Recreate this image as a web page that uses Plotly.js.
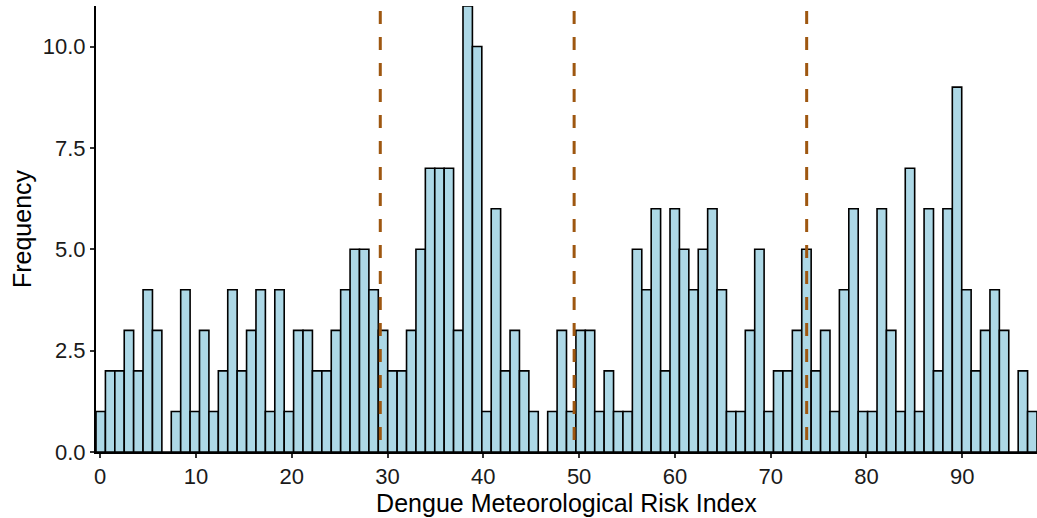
<!DOCTYPE html>
<html>
<head>
<meta charset="utf-8">
<script src="https://cdn.plot.ly/plotly-3.0.1.min.js"></script>
<style>html,body{margin:0;padding:0;background:#fff;}#chart{width:1037px;height:518px;}</style>
</head>
<body>
<div id="chart"></div>
<script>
// Histogram of the Dengue Meteorological Risk Index (100 bins)
const binStart = 0.05;      // centre of first bin
const binWidth = 0.9825;    // width of each bin
const counts = [
  1, 2, 2, 3, 2, 4, 3, 0, 1, 4,
  1, 3, 1, 2, 4, 2, 3, 4, 1, 4,
  1, 3, 3, 2, 2, 3, 4, 5, 5, 4,
  3, 2, 2, 3, 5, 7, 7, 7, 3, 11,
  10, 1, 6, 2, 3, 2, 1, 0, 1, 3,
  1, 3, 3, 1, 2, 1, 1, 5, 4, 6,
  2, 6, 5, 4, 5, 6, 4, 1, 1, 3,
  5, 1, 2, 2, 3, 5, 2, 3, 1, 4,
  6, 1, 1, 6, 3, 1, 7, 1, 6, 2,
  6, 9, 4, 2, 3, 4, 3, 0, 2, 1
];
const cutPoints = [29.24, 49.48, 73.76];
const xTicks = [0, 10, 20, 30, 40, 50, 60, 70, 80, 90];
const yTicks = [0, 2.5, 5, 7.5, 10];

const binCentres = counts.map((_, i) => binStart + i * binWidth);
const xMin = binCentres[0] - binWidth / 2;
const xMax = binCentres[binCentres.length - 1] + binWidth / 2;

const trace = {
  type: 'bar',
  x: binCentres,
  y: counts,
  width: binWidth,
  marker: { color: '#add8e6', line: { color: '#000000', width: 1.6 } },
  hoverinfo: 'x+y'
};

const shapes = cutPoints.map(c => ({
  type: 'line', xref: 'x', yref: 'y', x0: c, x1: c, y0: 11, y1: 0,
  line: { color: '#9e5710', width: 3, dash: '0px,5px,13px,8px' },
  layer: 'above'
}));

const layout = {
  width: 1037, height: 518,
  margin: { l: 96, r: 0, t: 6, b: 66 },
  paper_bgcolor: '#ffffff', plot_bgcolor: '#ffffff',
  font: { family: 'Liberation Sans, Arial, sans-serif', color: '#1a1a1a' },
  showlegend: false,
  bargap: 0,
  xaxis: {
    range: [xMin, xMax],
    tickmode: 'array', tickvals: xTicks, ticktext: xTicks.map(String),
    ticks: 'outside', ticklen: 4, tickwidth: 2, tickcolor: '#333333',
    showline: true, linecolor: '#000000', linewidth: 2,
    showgrid: false, zeroline: false,
    tickfont: { size: 22, color: '#1a1a1a' },
    title: { text: 'Dengue Meteorological Risk Index', font: { size: 25, color: '#000000' }, standoff: 0 }
  },
  yaxis: {
    range: [0, 11],
    tickmode: 'array', tickvals: yTicks, ticktext: yTicks.map(v => v.toFixed(1)),
    ticks: 'outside', ticklen: 4, tickwidth: 2, tickcolor: '#333333',
    showline: true, linecolor: '#000000', linewidth: 2,
    showgrid: false, zeroline: false,
    tickfont: { size: 22, color: '#1a1a1a' },
    title: { text: 'Frequency', font: { size: 25, color: '#000000' }, standoff: 4 }
  },
  shapes: shapes
};

Plotly.newPlot('chart', [trace], layout, { displayModeBar: false, staticPlot: true });
</script>
</body>
</html>
